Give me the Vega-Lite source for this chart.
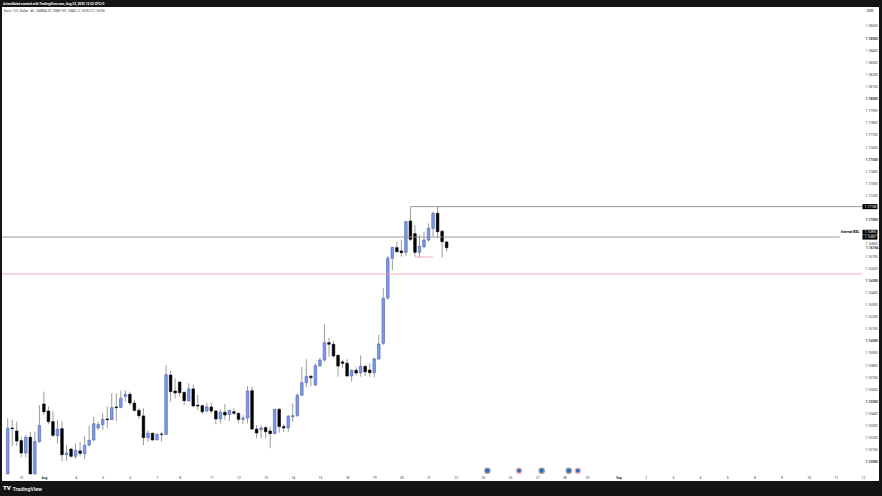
{
  "$schema": "https://vega.github.io/schema/vega-lite/v6.json",
  "description": "EUR/USD 4h candlesticks from TradingView with marked levels.",
  "width": 877,
  "height": 474,
  "autosize": {"type": "none"},
  "padding": {"left": 2, "top": 7, "right": 3, "bottom": 15},
  "background": "#141414",
  "title": {"text": "ArtemGalaó created with TradingView.com, Aug 23, 2025 12:52 UTC+3", "anchor": "start", "frame": "group", "color": "#ffffff", "font": "Roboto", "fontSize": 3.2, "fontWeight": 700, "offset": 2, "dx": 1},
  "config": {"view": {"fill": "#ffffff", "stroke": null}, "font": "Roboto"},
  "datasets": {
    "candles": [
      {"i":0,"o":1.14901,"h":1.15360,"l":1.14901,"c":1.15278},
      {"i":1,"o":1.15281,"h":1.15352,"l":1.15132,"c":1.15275},
      {"i":2,"o":1.15256,"h":1.15333,"l":1.15132,"c":1.15173},
      {"i":3,"o":1.15176,"h":1.15209,"l":1.15038,"c":1.15074},
      {"i":4,"o":1.15074,"h":1.15223,"l":1.15038,"c":1.15204},
      {"i":5,"o":1.15204,"h":1.15250,"l":1.14901,"c":1.14901},
      {"i":6,"o":1.14901,"h":1.15250,"l":1.14901,"c":1.15168},
      {"i":7,"o":1.15168,"h":1.15470,"l":1.15160,"c":1.15300},
      {"i":8,"o":1.15479,"h":1.15581,"l":1.15388,"c":1.15415},
      {"i":9,"o":1.15421,"h":1.15457,"l":1.15311,"c":1.15333},
      {"i":10,"o":1.15333,"h":1.15415,"l":1.15204,"c":1.15220},
      {"i":11,"o":1.15217,"h":1.15347,"l":1.15154,"c":1.15272},
      {"i":12,"o":1.15275,"h":1.15338,"l":1.15008,"c":1.15060},
      {"i":13,"o":1.15060,"h":1.15140,"l":1.15008,"c":1.15074},
      {"i":14,"o":1.15107,"h":1.15113,"l":1.15038,"c":1.15047},
      {"i":15,"o":1.15047,"h":1.15154,"l":1.15025,"c":1.15096},
      {"i":16,"o":1.15091,"h":1.15168,"l":1.15044,"c":1.15071},
      {"i":17,"o":1.15069,"h":1.15215,"l":1.15025,"c":1.15137},
      {"i":18,"o":1.15140,"h":1.15300,"l":1.15126,"c":1.15179},
      {"i":19,"o":1.15182,"h":1.15374,"l":1.15173,"c":1.15316},
      {"i":20,"o":1.15281,"h":1.15333,"l":1.15264,"c":1.15308},
      {"i":21,"o":1.15308,"h":1.15402,"l":1.15264,"c":1.15352},
      {"i":22,"o":1.15355,"h":1.15457,"l":1.15278,"c":1.15349},
      {"i":23,"o":1.15349,"h":1.15567,"l":1.15347,"c":1.15448},
      {"i":24,"o":1.15454,"h":1.15567,"l":1.15338,"c":1.15448},
      {"i":25,"o":1.15451,"h":1.15589,"l":1.15443,"c":1.15526},
      {"i":26,"o":1.15542,"h":1.15594,"l":1.15498,"c":1.15559},
      {"i":27,"o":1.15559,"h":1.15581,"l":1.15470,"c":1.15487},
      {"i":28,"o":1.15487,"h":1.15512,"l":1.15415,"c":1.15426},
      {"i":29,"o":1.15426,"h":1.15443,"l":1.15355,"c":1.15382},
      {"i":30,"o":1.15380,"h":1.15443,"l":1.15140,"c":1.15201},
      {"i":31,"o":1.15201,"h":1.15264,"l":1.15168,"c":1.15237},
      {"i":32,"o":1.15237,"h":1.15242,"l":1.15176,"c":1.15182},
      {"i":33,"o":1.15184,"h":1.15237,"l":1.15176,"c":1.15228},
      {"i":34,"o":1.15231,"h":1.15250,"l":1.15168,"c":1.15228},
      {"i":35,"o":1.15228,"h":1.15801,"l":1.15223,"c":1.15721},
      {"i":36,"o":1.15718,"h":1.15754,"l":1.15498,"c":1.15581},
      {"i":37,"o":1.15586,"h":1.15691,"l":1.15526,"c":1.15570},
      {"i":38,"o":1.15660,"h":1.15663,"l":1.15539,"c":1.15572},
      {"i":39,"o":1.15575,"h":1.15581,"l":1.15470,"c":1.15506},
      {"i":40,"o":1.15504,"h":1.15649,"l":1.15498,"c":1.15603},
      {"i":41,"o":1.15603,"h":1.15636,"l":1.15457,"c":1.15462},
      {"i":42,"o":1.15468,"h":1.15553,"l":1.15429,"c":1.15462},
      {"i":43,"o":1.15465,"h":1.15470,"l":1.15396,"c":1.15415},
      {"i":44,"o":1.15421,"h":1.15490,"l":1.15410,"c":1.15454},
      {"i":45,"o":1.15454,"h":1.15490,"l":1.15402,"c":1.15421},
      {"i":46,"o":1.15421,"h":1.15429,"l":1.15311,"c":1.15355},
      {"i":47,"o":1.15355,"h":1.15437,"l":1.15319,"c":1.15410},
      {"i":48,"o":1.15410,"h":1.15479,"l":1.15347,"c":1.15388},
      {"i":49,"o":1.15391,"h":1.15435,"l":1.15338,"c":1.15424},
      {"i":50,"o":1.15415,"h":1.15443,"l":1.15388,"c":1.15402},
      {"i":51,"o":1.15402,"h":1.15407,"l":1.15325,"c":1.15352},
      {"i":52,"o":1.15352,"h":1.15388,"l":1.15314,"c":1.15363},
      {"i":53,"o":1.15363,"h":1.15627,"l":1.15319,"c":1.15586},
      {"i":54,"o":1.15589,"h":1.15622,"l":1.15264,"c":1.15272},
      {"i":55,"o":1.15272,"h":1.15305,"l":1.15195,"c":1.15239},
      {"i":56,"o":1.15267,"h":1.15305,"l":1.15195,"c":1.15281},
      {"i":57,"o":1.15283,"h":1.15297,"l":1.15195,"c":1.15250},
      {"i":58,"o":1.15256,"h":1.15292,"l":1.15113,"c":1.15234},
      {"i":59,"o":1.15234,"h":1.15437,"l":1.15231,"c":1.15435},
      {"i":60,"o":1.15435,"h":1.15443,"l":1.15242,"c":1.15292},
      {"i":61,"o":1.15292,"h":1.15311,"l":1.15250,"c":1.15281},
      {"i":62,"o":1.15281,"h":1.15388,"l":1.15250,"c":1.15377},
      {"i":63,"o":1.15374,"h":1.15484,"l":1.15333,"c":1.15382},
      {"i":64,"o":1.15382,"h":1.15567,"l":1.15374,"c":1.15550},
      {"i":65,"o":1.15551,"h":1.15784,"l":1.15545,"c":1.15655},
      {"i":66,"o":1.15655,"h":1.15848,"l":1.15619,"c":1.15707},
      {"i":67,"o":1.15707,"h":1.15718,"l":1.15627,"c":1.15696},
      {"i":68,"o":1.15636,"h":1.15815,"l":1.15627,"c":1.15795},
      {"i":69,"o":1.15795,"h":1.15859,"l":1.15784,"c":1.15842},
      {"i":70,"o":1.15842,"h":1.16139,"l":1.15828,"c":1.15985},
      {"i":71,"o":1.15985,"h":1.16024,"l":1.15869,"c":1.15972},
      {"i":72,"o":1.15972,"h":1.15999,"l":1.15864,"c":1.15875},
      {"i":73,"o":1.15881,"h":1.15881,"l":1.15704,"c":1.15792},
      {"i":74,"o":1.15826,"h":1.15842,"l":1.15774,"c":1.15815},
      {"i":75,"o":1.15815,"h":1.15848,"l":1.15704,"c":1.15710},
      {"i":76,"o":1.15710,"h":1.15765,"l":1.15663,"c":1.15757},
      {"i":77,"o":1.15757,"h":1.15782,"l":1.15712,"c":1.15735},
      {"i":78,"o":1.15737,"h":1.15881,"l":1.15704,"c":1.15790},
      {"i":79,"o":1.15790,"h":1.15795,"l":1.15710,"c":1.15745},
      {"i":80,"o":1.15759,"h":1.15815,"l":1.15704,"c":1.15737},
      {"i":81,"o":1.15737,"h":1.15864,"l":1.15699,"c":1.15850},
      {"i":82,"o":1.15850,"h":1.16048,"l":1.15842,"c":1.15974},
      {"i":83,"o":1.15980,"h":1.16434,"l":1.15966,"c":1.16351},
      {"i":84,"o":1.16354,"h":1.16701,"l":1.16337,"c":1.16682},
      {"i":85,"o":1.16682,"h":1.16777,"l":1.16585,"c":1.16772},
      {"i":86,"o":1.16769,"h":1.16819,"l":1.16731,"c":1.16736},
      {"i":87,"o":1.16742,"h":1.16833,"l":1.16695,"c":1.16728},
      {"i":88,"o":1.16731,"h":1.16989,"l":1.16703,"c":1.16984},
      {"i":89,"o":1.16989,"h":1.17108,"l":1.16824,"c":1.16838},
      {"i":90,"o":1.16885,"h":1.16956,"l":1.16695,"c":1.16731},
      {"i":91,"o":1.16731,"h":1.16874,"l":1.16687,"c":1.16781},
      {"i":92,"o":1.16777,"h":1.16901,"l":1.16764,"c":1.16833},
      {"i":93,"o":1.16833,"h":1.16970,"l":1.16819,"c":1.16929},
      {"i":94,"o":1.16929,"h":1.17066,"l":1.16860,"c":1.17053},
      {"i":95,"o":1.17053,"h":1.17108,"l":1.16847,"c":1.16901},
      {"i":96,"o":1.16904,"h":1.16915,"l":1.16687,"c":1.16819},
      {"i":97,"o":1.16816,"h":1.16824,"l":1.16736,"c":1.16769}
    ],
    "levels": [
      {"name":"liquidity high","from":89,"to":188.9,"price":1.17108,"kind":"grey"},
      {"name":"Internal BSL","from":-1.26,"to":183.9,"price":1.16857,"kind":"grey"},
      {"name":"red level","from":-1.26,"to":188.9,"price":1.16552,"kind":"red"},
      {"name":"low mark","from":90,"to":94,"price":1.16692,"kind":"red"}
    ],
    "tags": [
      {"i":188.9,"end":192.2,"label":"1.17108","top":1.17129,"bottom":1.17087,"mid":1.17108},
      {"i":188.9,"end":192.2,"label":"1.16896","top":1.16917,"bottom":1.16877,"mid":1.16896},
      {"i":188.9,"end":192.2,"label":"1.16857","top":1.16876,"bottom":1.16836,"mid":1.16857}
    ],
    "events": [
      {"i":106,"currency":"USD"},
      {"i":113,"currency":"EUR"},
      {"i":118,"currency":"USD"},
      {"i":124,"currency":"USD"},
      {"i":126,"currency":"EUR"}
    ]
  },
  "data": {"name": "candles"},
  "encoding": {
    "x": {
      "field": "i",
      "type": "quantitative",
      "scale": {"domain": [-1.26, 192.55], "nice": false, "zero": false, "padding": 0},
      "axis": {
        "orient": "bottom",
        "offset": -6,
        "domain": false,
        "ticks": false,
        "grid": false,
        "labelPadding": 0,
        "labelFontSize": 3.3,
        "labelColor": "#333333",
        "labelFlush": false,
        "labelOverlap": false,
        "labelBound": false,
        "values": [3,8,15,21,27,33,38,45,51,57,63,69,75,81,87,93,99,105,111,117,123,128,135,141,147,153,159,165,171,177,183,189],
        "labelExpr": "{'3':'31','8':'Aug','15':'4','21':'5','27':'6','33':'7','38':'8','45':'11','51':'12','57':'13','63':'14','69':'15','75':'18','81':'19','87':'20','93':'21','99':'22','105':'25','111':'26','117':'27','123':'28','128':'29','135':'Sep','141':'2','147':'3','153':'4','159':'5','165':'8','171':'9','177':'10','183':'11','189':'12'}[datum.value]",
        "labelFontWeight": {"expr": "datum.value == 8 || datum.value == 135 ? 700 : 400"},
        "title": "TradingView",
        "titleColor": "#ffffff",
        "titleFontSize": 5.3,
        "titleFontWeight": 500,
        "titleX": 10,
        "titleY": 13,
        "titleAlign": "left",
        "titleBaseline": "middle"
      }
    },
    "y": {
      "type": "quantitative",
      "scale": {"domain": [1.14843, 1.18756], "nice": false, "zero": false},
      "axis": {
        "orient": "right",
        "offset": -14,
        "title": null,
        "domain": false,
        "ticks": false,
        "grid": false,
        "labelPadding": 0,
        "labelFontSize": 3.3,
        "labelColor": "#333333",
        "labelOverlap": false,
        "labelBound": false,
        "format": ".5f",
        "values": [1.150,1.151,1.152,1.153,1.154,1.155,1.156,1.157,1.158,1.159,1.160,1.161,1.162,1.163,1.164,1.165,1.166,1.167,1.168,1.169,1.170,1.171,1.172,1.173,1.174,1.175,1.176,1.177,1.178,1.179,1.180,1.181,1.182,1.183,1.184,1.185,1.186],
        "labelFontWeight": {"expr": "round(datum.value * 1000) % 5 == 0 ? 700 : 400"}
      }
    }
  },
  "layer": [
    {
      "mark": {"type": "rule", "strokeWidth": 1, "color": "#9c9c9c"},
      "encoding": {"y": {"field": "l", "type": "quantitative"}, "y2": {"field": "h"}}
    },
    {
      "mark": {"type": "bar", "size": 2.6, "strokeWidth": 0.6},
      "encoding": {
        "y": {"field": "o", "type": "quantitative"},
        "y2": {"field": "c"},
        "fill": {"condition": {"test": "datum.c > datum.o", "value": "#8298e2"}, "value": "#000000"},
        "stroke": {"condition": {"test": "datum.c > datum.o", "value": "#4660c4"}, "value": "#000000"}
      }
    },
    {
      "data": {"name": "levels"},
      "mark": {"type": "rule", "strokeWidth": 0.9},
      "encoding": {
        "x": {"field": "from", "type": "quantitative"},
        "x2": {"field": "to"},
        "y": {"field": "price", "type": "quantitative"},
        "color": {"field": "kind", "type": "nominal", "legend": null, "scale": {"domain": ["grey", "red"], "range": ["#8f8f8f", "#f2a3ad"]}}
      }
    },
    {
      "data": {"name": "events"},
      "mark": {"type": "circle", "size": 42, "opacity": 0.9},
      "encoding": {
        "y": {"datum": 1.14928},
        "color": {"field": "currency", "type": "nominal", "legend": null, "scale": {"domain": ["USD", "EUR"], "range": ["#3f4f86", "#f7a3a3"]}}
      }
    },
    {
      "data": {"name": "events"},
      "mark": {"type": "circle", "size": 14, "opacity": 1, "color": "#1c6dc4"},
      "encoding": {"y": {"datum": 1.14928}}
    },
    {
      "data": {"name": "tags"},
      "mark": {"type": "rect", "color": "#000000"},
      "encoding": {
        "x2": {"field": "end"},
        "y": {"field": "top", "type": "quantitative"},
        "y2": {"field": "bottom"}
      }
    },
    {
      "data": {"name": "tags"},
      "mark": {"type": "text", "align": "left", "baseline": "middle", "fontSize": 3.3, "color": "#ffffff", "dx": 2},
      "encoding": {
        "y": {"field": "mid", "type": "quantitative"},
        "text": {"field": "label"}
      }
    },
    {
      "mark": {"type": "text", "align": "left", "baseline": "middle", "fontSize": 3.4, "fontWeight": 700, "color": "#000000"},
      "data": {"values": [{"i": 184.1, "label": "Internal BSL"}]},
      "encoding": {"y": {"datum": 1.16896}, "text": {"field": "label"}}
    },
    {
      "mark": {"type": "text", "align": "left", "baseline": "middle", "fontSize": 3.3, "fontWeight": 700, "color": "#222222"},
      "data": {"values": [{"i": 189.7, "label": "1.16766"}]},
      "encoding": {"y": {"datum": 1.16766}, "text": {"field": "label"}}
    },
    {
      "mark": {"type": "text", "align": "left", "baseline": "middle", "fontSize": 3.2, "color": "#333333"},
      "data": {"values": [{"i": -0.8, "label": "Euro / U.S. Dollar · 4h · OANDA  O1.16807 H1.16841 L1.16762 C1.16766"}]},
      "encoding": {"y": {"datum": 1.18727}, "text": {"field": "label"}}
    },
    {
      "mark": {"type": "text", "align": "left", "baseline": "middle", "fontSize": 3.3, "fontWeight": 500, "color": "#333333"},
      "data": {"values": [{"i": 189.9, "label": "USD"}]},
      "encoding": {"y": {"datum": 1.18723}, "text": {"field": "label"}}
    },
    {
      "mark": {"type": "text", "align": "left", "baseline": "middle", "fontSize": 6, "fontWeight": 900, "color": "#ffffff"},
      "data": {"values": [{"i": -1.04, "label": "TV"}]},
      "encoding": {"y": {"datum": 1.14785}, "text": {"field": "label"}}
    }
  ]
}
